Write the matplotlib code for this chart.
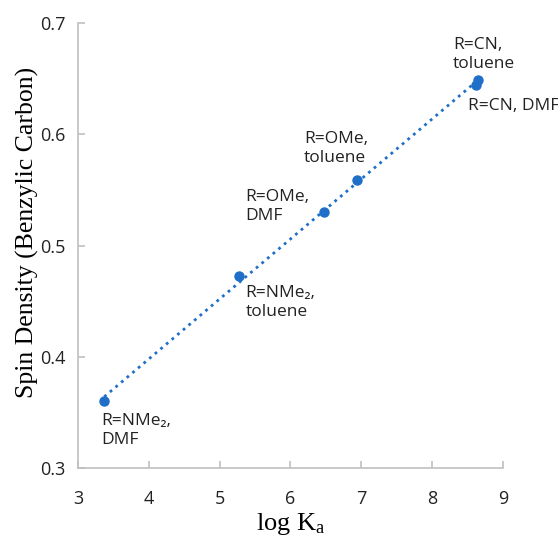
import matplotlib
matplotlib.use('Agg')
import matplotlib.pyplot as plt
import numpy as np

# values
log_ka = [3.37, 5.27, 6.48, 6.94, 8.62, 8.65]
spin = [0.360, 0.473, 0.530, 0.559, 0.644, 0.649]
labels = ['R=NMe\u2082,\nDMF', 'R=NMe\u2082,\ntoluene', 'R=OMe,\nDMF',
          'R=OMe,\ntoluene', 'R=CN, DMF', 'R=CN,\ntoluene']
# label offsets (points) and vertical alignment
offsets = [(-2, -21), (5, -19), (-57, 4), (-38, 10), (-6, -15), (-18, 6)]
valigns = ['center', 'center', 'center', 'bottom', 'center', 'bottom']

blue = '#1f6fc9'
sans = ['Open Sans', 'DejaVu Sans']

plt.rcParams['mathtext.fontset'] = 'custom'
plt.rcParams['mathtext.rm'] = 'Liberation Serif'
plt.rcParams['mathtext.it'] = 'Liberation Serif:italic'

fig = plt.figure(figsize=(5.58, 5.38), dpi=100)
ax = fig.add_axes([0.14, 0.13, 0.761, 0.827])

# linear trend line over the data range
k, b = np.polyfit(log_ka, spin, 1)
xs = np.array([min(log_ka), max(log_ka)])
ax.plot(xs, k*xs + b, ':', color=blue, lw=2, zorder=2)
ax.plot(log_ka, spin, 'o', color=blue, ms=6.5, zorder=3)

for x, y, t, off, va in zip(log_ka, spin, labels, offsets, valigns):
    ax.annotate(t, (x, y), xytext=off, textcoords='offset points',
                ha='left', va=va, fontsize=12.5, family=sans, color='#222222',
                linespacing=1.25)

ax.set_xlim(3, 9)
ax.set_ylim(0.3, 0.7)
ax.set_xticks(range(3, 10))
ax.set_yticks([0.3, 0.4, 0.5, 0.6, 0.7])
ax.set_yticklabels(['0.3', '0.4', '0.5', '0.6', '0.7'])

for s in ['top', 'right']:
    ax.spines[s].set_visible(False)
for s in ['left', 'bottom']:
    ax.spines[s].set_color('#c0c0c0')
    ax.spines[s].set_linewidth(1.2)

ax.tick_params(direction='in', length=5, color='#c0c0c0', width=1.2,
               labelsize=13, labelcolor='#222222')
ax.tick_params(axis='x', pad=16)
ax.tick_params(axis='y', pad=9)
for lab in ax.get_xticklabels() + ax.get_yticklabels():
    lab.set_family(sans)

ax.set_xlabel('log K$_\\mathrm{a}$', family='Liberation Serif', fontsize=19, labelpad=2)
ax.set_ylabel('Spin Density (Benzylic Carbon)', family='Liberation Serif',
              fontsize=18.5)
ax.yaxis.set_label_coords(-0.092, 0.53)

fig.savefig('out.png', dpi=100)
